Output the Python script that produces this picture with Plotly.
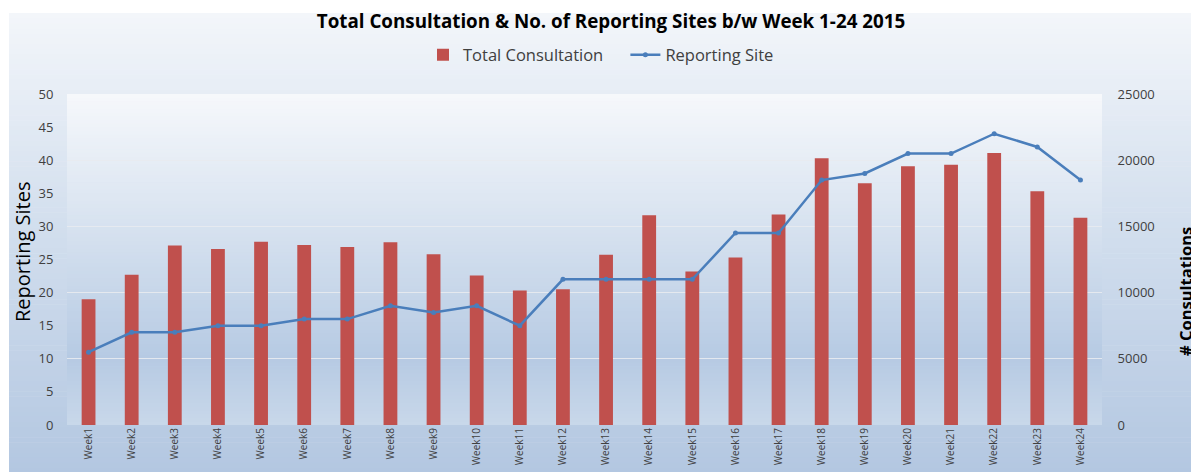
import plotly.graph_objects as go

weeks = [f"Week{i}" for i in range(1, 25)]
consultations = [9500, 11350, 13550, 13300, 13850, 13600, 13450, 13800, 12900, 11300,
                 10150, 10250, 12850, 15850, 11600, 12650, 15900, 20150, 18250, 19550,
                 19650, 20550, 17650, 15650]
reporting_sites = [11, 14, 14, 15, 15, 16, 16, 18, 17, 18, 15, 22, 22, 22, 22, 29, 29,
                   37, 38, 41, 41, 44, 42, 37]

OFF = 8  # page body margin offset
W, H = 1199 - OFF, 472 - OFF
ML, MT = 67 - OFF, 94 - OFF
MR = W - (1102 - OFF)
MB = H - (425 - OFF)
PW, PH = W - ML - MR, H - MT - MB


def px_to_paper_x(rx):
    return (rx - OFF - ML) / PW


def px_to_paper_y(ry):
    return (H - MB - (ry - OFF)) / PH


def hex2rgb(h):
    h = h.lstrip('#')
    return tuple(int(h[i:i + 2], 16) for i in (0, 2, 4))


def interp(stops, t):
    for (t0, c0), (t1, c1) in zip(stops, stops[1:]):
        if t0 <= t <= t1:
            f = 0 if t1 == t0 else (t - t0) / (t1 - t0)
            a, b = hex2rgb(c0), hex2rgb(c1)
            return "rgb(%d,%d,%d)" % tuple(round(a[i] + (b[i] - a[i]) * f) for i in range(3))
    return stops[-1][1]


def gradient(x0, x1, y0, y1, stops, n=80):
    shapes = []
    for k in range(n):
        ya = y0 + (y1 - y0) * k / n
        yb = y0 + (y1 - y0) * (k + 1) / n + 0.5
        col = interp(stops, (k + 0.5) / n)
        shapes.append(dict(type="rect", xref="paper", yref="paper",
                           x0=px_to_paper_x(x0), x1=px_to_paper_x(x1),
                           y0=px_to_paper_y(ya), y1=px_to_paper_y(min(yb, y1)),
                           fillcolor=col, line=dict(width=0), layer="below"))
    return shapes


shapes = []
shapes += gradient(9, 1200, 13, 473, [(0, "#f3f6fa"), (0.45, "#d3dfee"), (1, "#b3c7e1")], n=90)
shapes += gradient(67, 1102, 94, 425,
                   [(0, "#f6f8fb"), (0.35, "#dbe5f1"), (0.8, "#b6cae3"), (1, "#c9d8ea")], n=90)

annotations = [
    dict(text="Reporting Sites", xref="paper", yref="paper",
         x=px_to_paper_x(22), y=px_to_paper_y(252), xanchor="center", yanchor="middle",
         textangle=-90, showarrow=False, font=dict(size=20, color="#000000")),
    dict(text="<b># Consultations</b>", xref="paper", yref="paper",
         x=px_to_paper_x(1185), y=px_to_paper_y(292), xanchor="center", yanchor="middle",
         textangle=-90, showarrow=False,
         font=dict(size=16.5, color="#000000")),
]

fig = go.Figure()
fig.add_trace(go.Bar(
    x=weeks, y=consultations, name="Total Consultation\u00a0\u00a0\u00a0\u00a0",
    marker=dict(color="#c0504d", line=dict(width=0)), width=0.32, yaxis="y"))
fig.add_trace(go.Scatter(
    x=weeks, y=reporting_sites, name="Reporting Site", mode="lines+markers",
    line=dict(color="#4a7ebb", width=2.5), marker=dict(size=5, color="#4a7ebb"),
    yaxis="y2"))

fig.update_layout(
    width=W, height=H,
    margin=dict(l=ML, r=MR, t=MT, b=MB, autoexpand=False),
    paper_bgcolor="white", plot_bgcolor="rgba(0,0,0,0)",
    font=dict(family="Open Sans, sans-serif", color="#404040"),
    title=dict(text="<b>Total Consultation & No. of Reporting Sites b/w Week 1-24 2015</b>",
               x=(611 - OFF) / W, xanchor="center", y=1 - (21 - OFF) / H, yanchor="middle",
               font=dict(size=18.8, color="#000000")),
    legend=dict(orientation="h", x=px_to_paper_x(601), xanchor="center",
                y=px_to_paper_y(55), yanchor="middle",
                font=dict(size=16.5, color="#404040"), bgcolor="rgba(0,0,0,0)",
                traceorder="normal", itemwidth=30),
    shapes=shapes,
    annotations=annotations,
    xaxis=dict(range=[-0.5, 23.5], tickangle=-90, tickfont=dict(size=10, color="#404040"),
               showgrid=False, showline=False, ticks="", ticklen=0, automargin=False),
    yaxis=dict(side="right", range=[0, 25000], dtick=5000, tickformat="d",
               tickfont=dict(size=13, color="#404040"),
               showgrid=True, gridcolor="rgba(232,235,240,0.9)", gridwidth=1,
               zeroline=False, showline=False, ticks="outside", ticklen=12,
               tickcolor="rgba(0,0,0,0)", automargin=False),
    yaxis2=dict(overlaying="y", side="left", anchor="x", range=[0, 50], dtick=5,
                tickfont=dict(size=13, color="#404040"), showgrid=False,
                zeroline=False, showline=False, ticks="outside", ticklen=10,
                tickcolor="rgba(0,0,0,0)", automargin=False),
)

fig.write_html("out.html")
